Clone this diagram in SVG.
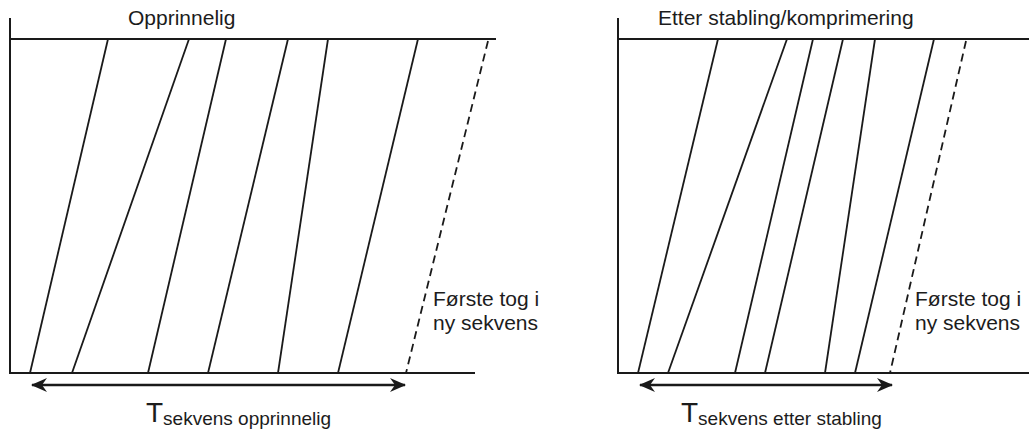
<svg xmlns="http://www.w3.org/2000/svg" width="1029" height="430" viewBox="0 0 1029 430">
<style>
.ax{stroke:#1a1a1a;stroke-width:2;fill:none}
.tr{stroke:#1a1a1a;stroke-width:1.8;fill:none}
.ds{stroke:#1a1a1a;stroke-width:1.8;fill:none;stroke-dasharray:8 5}
.ar{stroke:#1a1a1a;stroke-width:2.6;fill:none;marker-start:url(#ah);marker-end:url(#ah)}
.t{font-family:"Liberation Sans",Arial,sans-serif;fill:#1c1c1c}
.ti{font-size:21px}
.lb{font-size:21px}
.big{font-size:28px}
.sub{font-size:19px}
</style>
<defs>
<marker id="ah" viewBox="0 0 16 14" refX="15" refY="7" markerWidth="16" markerHeight="14" markerUnits="userSpaceOnUse" orient="auto-start-reverse">
<path d="M0,0 L16,7 L0,14 L5,7 z" fill="#1a1a1a"/>
</marker>
</defs>
<rect width="1029" height="430" fill="#fff"/>
<g id="left-panel">
<text class="t ti" x="128" y="25">Opprinnelig</text>
<g id="left-axes">
<path class="ax" d="M10,18 V373 H475"/>
<path class="ax" d="M10,39 H496"/>
</g>
<g id="left-trains">
<line class="tr" x1="108" y1="39" x2="30" y2="373"/>
<line class="tr" x1="189" y1="39" x2="72" y2="373"/>
<line class="tr" x1="226" y1="39" x2="148" y2="373"/>
<line class="tr" x1="288" y1="39" x2="208" y2="373"/>
<line class="tr" x1="328" y1="39" x2="278" y2="373"/>
<line class="tr" x1="418" y1="39" x2="338" y2="373"/>
<line class="ds" x1="488" y1="41" x2="406" y2="373"/>
</g>
<text class="t lb" x="433" y="306">Første tog i</text>
<text class="t lb" x="433" y="330">ny sekvens</text>
<g id="left-connector">
<line class="ar" x1="32" y1="385" x2="405" y2="385"/>
</g>
<text class="t" x="146" y="422"><tspan class="big">T</tspan><tspan class="sub" dy="3">sekvens opprinnelig</tspan></text>
</g>
<g id="right-panel">
<text class="t ti" x="658" y="25">Etter stabling/komprimering</text>
<g id="right-axes">
<path class="ax" d="M618,18 V373 H1029"/>
<path class="ax" d="M618,39 H1029"/>
</g>
<g id="right-trains">
<line class="tr" x1="718" y1="39" x2="638" y2="373"/>
<line class="tr" x1="787" y1="39" x2="668" y2="373"/>
<line class="tr" x1="813" y1="39" x2="735" y2="373"/>
<line class="tr" x1="843" y1="39" x2="765" y2="373"/>
<line class="tr" x1="875" y1="39" x2="825" y2="373"/>
<line class="tr" x1="934" y1="39" x2="855" y2="373"/>
<line class="ds" x1="966" y1="41" x2="890" y2="373"/>
</g>
<text class="t lb" x="915" y="306">Første tog i</text>
<text class="t lb" x="915" y="330">ny sekvens</text>
<g id="right-connector">
<line class="ar" x1="640" y1="385" x2="892" y2="385"/>
</g>
<text class="t" x="681" y="422"><tspan class="big">T</tspan><tspan class="sub" dy="3">sekvens etter stabling</tspan></text>
</g>
</svg>
